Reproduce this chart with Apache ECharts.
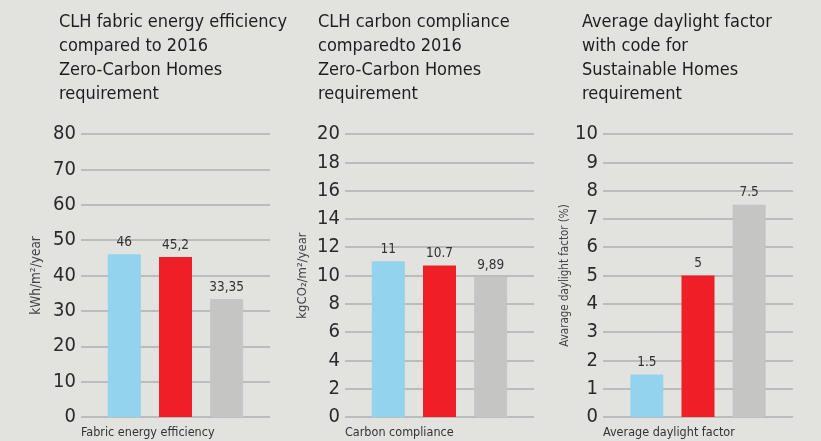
<!DOCTYPE html>
<html>
<head>
<meta charset="utf-8">
<script src="https://cdn.jsdelivr.net/npm/echarts@6/dist/echarts.min.js"></script>
<style>
html,body{margin:0;padding:0;background:#e2e2df;}
#c{width:821px;height:441px;}
</style>
</head>
<body>
<div id="c"></div>
<script>
// ---- data ----
const panelTitles = [
  "CLH fabric energy efficiency\ncompared to 2016\nZero-Carbon Homes\nrequirement",
  "CLH carbon compliance\ncomparedto 2016\nZero-Carbon Homes\nrequirement",
  "Average daylight factor\nwith code for\nSustainable Homes\nrequirement"
];
const categoryLabels = ["Fabric energy efficiency", "Carbon compliance", "Average daylight factor"];
const axisNames = ["kWh/m²/year", "kgCO₂/m²/year", "Avarage daylight factor (%)"];
const axisMax = [80, 20, 10];
const axisInterval = [10, 2, 1];
const seriesA = [46, 11, 1.5];       // blue
const seriesB = [45.2, 10.7, 5];     // red
const seriesC = [33.35, 9.89, 7.5];  // gray
const valueText = [
  ["46", "45,2", "33,35"],
  ["11", "10.7", "9,89"],
  ["1.5", "5", "7.5"]
];

// ---- layout / style ----
const FONT = "'Liberation Sans Narrow','DejaVu Sans Condensed','Roboto',sans-serif";
const colors = ["#93d3ee", "#ee1f26", "#c5c5c4"];
const grids = [
  {left: 81, width: 189, top: 134, height: 283},
  {left: 345, width: 189, top: 134, height: 283},
  {left: 603, width: 190, top: 134, height: 283}
];
const titleLeft = [59, 318, 582];
const nameGaps = [38, 36, 31];
const nameSizes = [13.5, 13, 11.5];

const chart = echarts.init(document.getElementById('c'));
const option = {
  backgroundColor: '#e2e2df',
  animation: false,
  title: [],
  grid: [],
  xAxis: [],
  yAxis: [],
  series: []
};
for (let i = 0; i < 3; i++) {
  option.title.push({
    text: panelTitles[i], left: titleLeft[i], top: 10, padding: 0,
    textStyle: {fontFamily: FONT, fontSize: 18, lineHeight: 24, fontWeight: 'normal', color: '#1e1e1e'}
  });
  option.title.push({
    text: categoryLabels[i], left: grids[i].left, top: 426, padding: 0,
    textStyle: {fontFamily: FONT, fontSize: 12.5, fontWeight: 'normal', color: '#333'}
  });
  option.grid.push(Object.assign({containLabel: false}, grids[i]));
  option.xAxis.push({
    type: 'category', gridIndex: i, data: [categoryLabels[i]],
    axisLine: {show: false}, axisTick: {show: false}, axisLabel: {show: false}
  });
  option.yAxis.push({
    type: 'value', gridIndex: i, min: 0, max: axisMax[i], interval: axisInterval[i],
    name: axisNames[i], nameLocation: 'middle', nameGap: nameGaps[i], nameRotate: 90,
    nameTextStyle: {fontFamily: FONT, fontSize: nameSizes[i], color: '#444'},
    axisLine: {show: false}, axisTick: {show: false},
    axisLabel: {fontFamily: FONT, fontSize: 20, color: '#2a2a2a', margin: 5},
    splitLine: {show: true, lineStyle: {color: '#bcbcbc', width: 2}}
  });
  const vals = [seriesA[i], seriesB[i], seriesC[i]];
  vals.forEach((v, k) => {
    option.series.push({
      type: 'bar', xAxisIndex: i, yAxisIndex: i,
      data: [v], barWidth: 33, barGap: '55%',
      itemStyle: {color: colors[k]},
      label: {
        show: true, position: 'top', distance: 5,
        formatter: () => valueText[i][k],
        fontFamily: FONT, fontSize: 13.5, color: '#333'
      }
    });
  });
}
chart.setOption(option);
</script>
</body>
</html>
